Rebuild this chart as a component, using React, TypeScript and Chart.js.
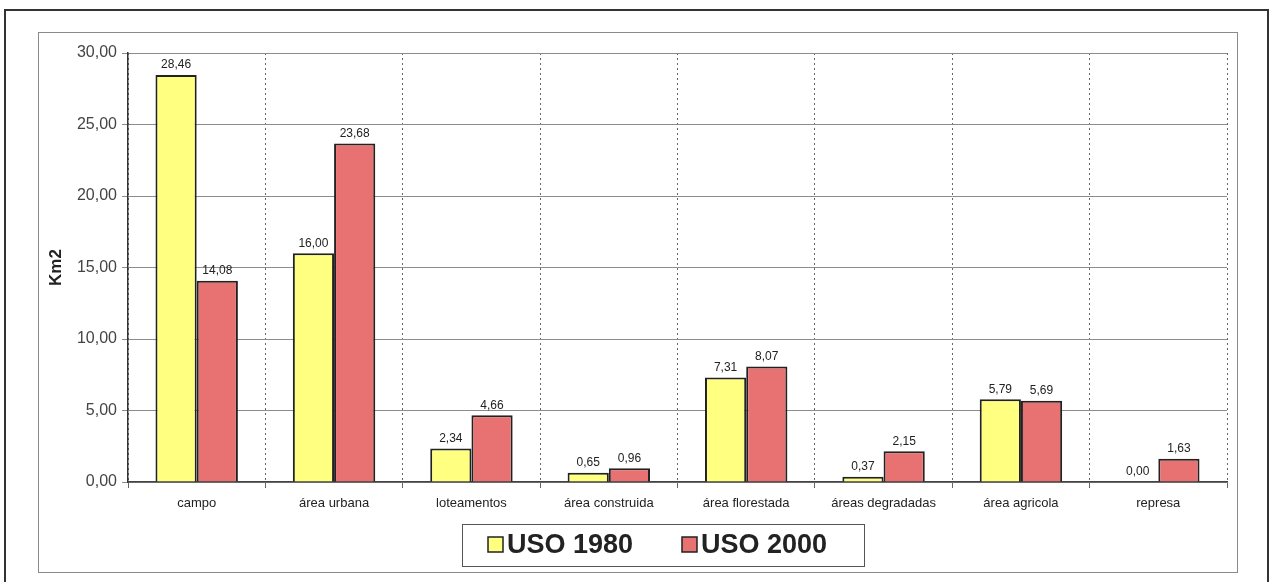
import React, { useEffect, useRef } from "react";
import { Chart, registerables } from "chart.js";

Chart.register(...registerables);

const categories = [
  "campo",
  "área urbana",
  "loteamentos",
  "área construida",
  "área florestada",
  "áreas degradadas",
  "área agricola",
  "represa",
];
const uso1980 = [28.46, 16.0, 2.34, 0.65, 7.31, 0.37, 5.79, 0.0];
const uso2000 = [14.08, 23.68, 4.66, 0.96, 8.07, 2.15, 5.69, 1.63];
const seriesLabels = ["USO 1980", "USO 2000"];
const seriesColors = ["#FFFF80", "#E87272"];
const yTitle = "Km2";

const fmt = (v: number) => v.toFixed(2).replace(".", ",");

const W = 1273;
const H = 582;

const framePlugin = {
  id: "frames",
  beforeDraw(chart: any) {
    const ctx = chart.ctx;
    ctx.save();
    ctx.fillStyle = "#ffffff";
    ctx.fillRect(0, 0, W, H);
    ctx.strokeStyle = "#333333";
    ctx.lineWidth = 2;
    ctx.strokeRect(5, 10, 1263, 580);
    ctx.strokeStyle = "#8a8a8a";
    ctx.lineWidth = 1;
    ctx.strokeRect(38.5, 32.5, 1199, 540);
    ctx.restore();
  },
  afterDraw(chart: any) {
    const ctx = chart.ctx;
    const area = chart.chartArea;
    ctx.save();
    ctx.translate(56, (area.top + area.bottom) / 2);
    ctx.rotate(-Math.PI / 2);
    ctx.font = "bold 17px Arial, 'Liberation Sans', sans-serif";
    ctx.fillStyle = "#222";
    ctx.textAlign = "center";
    ctx.textBaseline = "middle";
    ctx.fillText(yTitle, 0, 0);
    ctx.restore();

    ctx.save();
    ctx.strokeStyle = "#555";
    ctx.lineWidth = 1;
    ctx.strokeRect(462.5, 524.5, 402, 42);
    const items = [
      { sq: 488, tx: 507 },
      { sq: 682, tx: 701 },
    ];
    ctx.font = "bold 27px Arial, 'Liberation Sans', sans-serif";
    ctx.textBaseline = "middle";
    ctx.textAlign = "left";
    chart.data.datasets.forEach((ds: any, i: number) => {
      const it = items[i];
      ctx.fillStyle = ds.backgroundColor;
      ctx.fillRect(it.sq, 537, 15, 15);
      ctx.strokeStyle = "#222";
      ctx.lineWidth = 1.5;
      ctx.strokeRect(it.sq, 537, 15, 15);
      ctx.fillStyle = "#222";
      ctx.fillText(ds.label, it.tx, 546);
    });
    ctx.restore();
  },
};

const valueLabels = {
  id: "valueLabels",
  afterDatasetsDraw(chart: any) {
    const ctx = chart.ctx;
    ctx.save();
    ctx.font = "12px Arial, 'Liberation Sans', sans-serif";
    ctx.fillStyle = "#222";
    ctx.textAlign = "center";
    ctx.textBaseline = "bottom";
    chart.data.datasets.forEach((ds: any, di: number) => {
      const meta = chart.getDatasetMeta(di);
      meta.data.forEach((bar: any, i: number) => {
        const v = ds.data[i];
        ctx.fillText(fmt(v), bar.x, bar.y - 4);
      });
    });
    ctx.restore();
  },
};

export default function App() {
  const ref = useRef<HTMLCanvasElement | null>(null);
  useEffect(() => {
    if (!ref.current) return;
    const chart = new Chart(ref.current, {
      type: "bar",
      data: {
        labels: categories,
        datasets: [
          {
            label: seriesLabels[0],
            data: uso1980,
            backgroundColor: seriesColors[0],
            borderColor: "#222",
            borderWidth: 2,
            categoryPercentage: 0.6,
            barPercentage: 1,
          },
          {
            label: seriesLabels[1],
            data: uso2000,
            backgroundColor: seriesColors[1],
            borderColor: "#222",
            borderWidth: 2,
            categoryPercentage: 0.6,
            barPercentage: 1,
          },
        ],
      },
      options: {
        responsive: false,
        animation: false,
        devicePixelRatio: 1,
        layout: { padding: { left: 40, top: 53, right: 46, bottom: 0 } },
        plugins: {
          legend: { display: false },
          tooltip: { enabled: false },
          title: { display: false },
        },
        scales: {
          x: {
            offset: true,
            grid: {
              offset: true,
              color: "#666",
              lineWidth: 1,
              tickLength: 6,
              drawTicks: true,
            },
            border: { color: "#444", width: 1.5, dash: [2, 3] },
            ticks: {
              color: "#222",
              padding: 8,
              autoSkip: false,
              maxRotation: 0,
              font: { family: "Arial, 'Liberation Sans', sans-serif", size: 13 },
            },
            afterFit: (s: any) => {
              s.height = 100;
            },
          },
          y: {
            min: 0,
            max: 30,
            ticks: {
              stepSize: 5,
              color: "#444",
              padding: 5,
              font: { family: "Arial, 'Liberation Sans', sans-serif", size: 16 },
              callback: (v: any) => fmt(Number(v)),
            },
            grid: {
              color: "#8c8c8c",
              lineWidth: 1,
              tickLength: 6,
            },
            border: { color: "#333", width: 1.5 },
            afterFit: (s: any) => {
              s.width = 88;
            },
          },
        },
      },
      plugins: [framePlugin, valueLabels],
    } as any);
    return () => chart.destroy();
  }, []);
  return (
    <div style={{ position: "fixed", left: 0, top: 0, width: W, height: H, background: "#fff" }}>
      <canvas ref={ref} width={W} height={H} style={{ display: "block" }} />
    </div>
  );
}
